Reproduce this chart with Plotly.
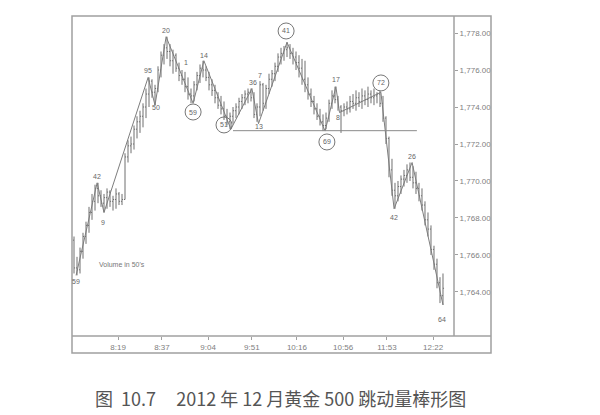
import plotly.graph_objects as go

# ---- data ----
opens = [1766.8, 1765.3, 1765.2, 1766.2, 1767.0, 1767.6, 1768.3, 1768.9, 1769.6, 1769.2,
         1768.8, 1769.1, 1769.4, 1768.9, 1769.0, 1769.3, 1768.9, 1769.0, 1771.3, 1771.9,
         1772.0, 1772.8, 1773.2, 1773.5, 1774.0, 1774.7, 1775.4, 1774.8, 1775.0, 1776.0,
         1776.8, 1777.2, 1777.0, 1776.5, 1776.8, 1776.1, 1775.7, 1775.5, 1775.1, 1774.7,
         1774.6, 1775.2, 1775.7, 1776.1, 1776.0, 1775.6, 1775.2, 1774.9, 1774.5, 1774.1,
         1773.9, 1773.5, 1773.2, 1773.5, 1773.8, 1774.0, 1774.3, 1774.5, 1774.7, 1774.8,
         1774.5, 1773.6, 1774.0, 1775.2, 1774.2, 1775.0, 1775.5, 1775.8, 1776.2, 1776.7,
         1776.9, 1777.1, 1777.2, 1776.9, 1776.7, 1776.4, 1776.1, 1775.5, 1775.2, 1774.7,
         1774.3, 1773.9, 1773.5, 1773.2, 1773.0, 1773.4, 1774.2, 1774.6, 1774.4, 1774.0,
         1773.8, 1774.0, 1773.9, 1774.3, 1774.2, 1774.5, 1774.3, 1774.6, 1774.4, 1774.7,
         1774.5, 1774.6, 1774.7, 1774.2, 1773.4, 1772.3, 1770.6, 1769.5, 1769.2, 1769.7,
         1770.1, 1770.3, 1770.6, 1770.2, 1769.9, 1769.6, 1769.2, 1768.7, 1767.9, 1767.4,
         1766.3, 1765.5, 1764.5, 1763.8]
highs = [1767.0, 1765.9, 1766.4, 1767.2, 1767.8, 1768.6, 1769.3, 1769.8, 1769.9, 1769.5,
         1769.3, 1769.6, 1769.5, 1769.2, 1769.6, 1769.4, 1769.3, 1771.5, 1772.2, 1772.4,
         1773.0, 1773.5, 1773.8, 1774.2, 1775.0, 1775.6, 1775.5, 1775.2, 1776.2, 1777.0,
         1777.4, 1777.8, 1777.4, 1777.1, 1776.9, 1776.4, 1776.0, 1775.9, 1775.6, 1775.0,
         1775.4, 1775.9, 1776.3, 1776.5, 1776.2, 1775.9, 1775.5, 1775.2, 1774.8, 1774.6,
         1774.3, 1773.9, 1773.7, 1774.0, 1774.2, 1774.5, 1774.7, 1774.9, 1775.0, 1775.0,
         1774.8, 1774.2, 1775.4, 1775.3, 1775.2, 1775.8, 1776.0, 1776.4, 1776.9, 1777.2,
         1777.3, 1777.5, 1777.4, 1777.2, 1777.0, 1776.8, 1776.6, 1776.5, 1775.6, 1775.0,
         1774.6, 1774.2, 1773.9, 1773.6, 1773.7, 1774.4, 1774.9, 1775.1, 1774.6, 1774.1,
         1774.2, 1774.3, 1774.6, 1774.7, 1774.9, 1774.8, 1775.0, 1774.9, 1775.1, 1774.9,
         1775.0, 1774.8, 1774.9, 1774.6, 1773.5, 1772.4, 1771.2, 1769.9, 1770.0, 1770.3,
         1770.6, 1770.9, 1771.0, 1770.8, 1770.5, 1769.9, 1769.6, 1768.9, 1768.3, 1767.6,
         1766.5, 1765.8, 1764.8, 1765.0]
lows = [1765.0, 1764.9, 1765.0, 1765.8, 1766.6, 1767.2, 1767.9, 1768.4, 1768.8, 1768.6,
        1768.3, 1768.5, 1768.6, 1768.4, 1768.5, 1768.7, 1768.7, 1769.0, 1771.0, 1771.5,
        1771.7, 1772.3, 1772.6, 1772.9, 1773.4, 1774.0, 1774.5, 1774.1, 1774.8, 1775.6,
        1776.3, 1776.6, 1776.2, 1775.8, 1775.9, 1775.4, 1775.2, 1774.8, 1774.4, 1774.2,
        1774.3, 1774.9, 1775.3, 1775.6, 1775.4, 1774.9, 1774.6, 1774.2, 1773.9, 1773.6,
        1773.3, 1773.0, 1772.8, 1773.1, 1773.4, 1773.6, 1773.9, 1774.1, 1774.2, 1774.3,
        1773.4, 1773.2, 1773.5, 1773.8, 1773.9, 1774.7, 1775.1, 1775.4, 1775.9, 1776.3,
        1776.5, 1776.7, 1776.6, 1776.3, 1776.0, 1775.6, 1775.2, 1774.8, 1774.4, 1774.0,
        1773.6, 1773.3, 1773.0, 1772.7, 1772.8, 1773.2, 1773.9, 1774.2, 1773.8, 1772.6,
        1773.5, 1773.6, 1773.7, 1773.9, 1773.8, 1774.0, 1773.9, 1774.1, 1774.0, 1774.2,
        1774.1, 1774.2, 1774.0, 1773.2, 1772.0, 1770.2, 1769.2, 1768.5, 1768.9, 1769.3,
        1769.7, 1769.9, 1770.0, 1769.6, 1769.3, 1768.9, 1768.4, 1767.6, 1767.0, 1766.0,
        1765.2, 1764.2, 1763.4, 1763.3]
closes = [1765.3, 1765.2, 1766.2, 1767.0, 1767.6, 1768.3, 1768.9, 1769.6, 1769.2, 1768.8,
          1769.1, 1769.4, 1768.9, 1769.0, 1769.3, 1768.9, 1769.0, 1771.3, 1771.9, 1772.0,
          1772.8, 1773.2, 1773.5, 1774.0, 1774.7, 1775.4, 1774.8, 1775.0, 1776.0, 1776.8,
          1777.2, 1777.0, 1776.5, 1776.8, 1776.1, 1775.7, 1775.5, 1775.1, 1774.7, 1774.6,
          1775.2, 1775.7, 1776.1, 1776.0, 1775.6, 1775.2, 1774.9, 1774.5, 1774.1, 1773.9,
          1773.5, 1773.2, 1773.5, 1773.8, 1774.0, 1774.3, 1774.5, 1774.7, 1774.8, 1774.5,
          1773.6, 1774.0, 1775.2, 1774.2, 1775.0, 1775.5, 1775.8, 1776.2, 1776.7, 1776.9,
          1777.1, 1777.2, 1776.9, 1776.7, 1776.4, 1776.1, 1775.5, 1775.2, 1774.7, 1774.3,
          1773.9, 1773.5, 1773.2, 1773.0, 1773.4, 1774.2, 1774.6, 1774.4, 1774.0, 1773.8,
          1774.0, 1773.9, 1774.3, 1774.2, 1774.5, 1774.3, 1774.6, 1774.4, 1774.7, 1774.5,
          1774.6, 1774.7, 1774.2, 1773.4, 1772.3, 1770.6, 1769.5, 1769.2, 1769.7, 1770.1,
          1770.3, 1770.6, 1770.2, 1769.9, 1769.6, 1769.2, 1768.7, 1767.9, 1767.4, 1766.3,
          1765.5, 1764.5, 1763.8, 1764.2]
bar_index = list(range(len(closes)))

# swing (wave) points
wave_x = [0.7, 7.7, 10.0, 24.7, 27.0, 30.7, 39.7, 43.3, 52.3, 59.3, 61.5, 71.0,
          83.7, 87.3, 88.5, 102.3, 106.7, 112.7, 123.0]
wave_y = [1764.9, 1769.9, 1768.3, 1775.6, 1774.1, 1777.8, 1774.2, 1776.5, 1772.8,
          1775.0, 1773.1, 1777.5, 1772.7, 1775.1, 1773.7, 1774.8, 1768.5, 1771.0, 1763.3]

# wave volume labels (text, bar index, price, circled)
label_text = ["59", "42", "9", "95", "50", "20", "1", "59", "14", "51", "36", "7", "13",
              "41", "69", "17", "8", "72", "42", "26", "64"]
label_x = [0.5, 7.7, 9.7, 24.7, 27.3, 30.7, 37.3, 39.7, 43.3, 50.0, 59.7, 62.0, 61.7,
           70.7, 84.3, 87.3, 88.0, 102.3, 106.7, 112.7, 122.7]
label_y = [1764.55, 1770.27, 1767.78, 1775.95, 1773.95, 1778.16, 1776.38, 1773.73, 1776.81,
           1773.03, 1775.30, 1775.73, 1772.92, 1778.11, 1772.11, 1775.51, 1773.41, 1775.30,
           1768.05, 1771.30, 1762.49]
label_circled = [False, False, False, False, False, False, False, True, False, True, False,
                 False, False, True, True, False, False, True, False, False, False]

# support line
support_price = 1772.72
support_from, support_to = 53.0, 114.3

# axes
x_tick_pos = [14.7, 29.3, 44.7, 59.3, 74.3, 89.7, 104.3, 119.7]
x_tick_text = ["8:19", "8:37", "9:04", "9:51", "10:16", "10:56", "11:53", "12:22"]
y_ticks = [1764, 1766, 1768, 1770, 1772, 1774, 1776, 1778]

NB = "\u00a0"
caption = ("图" + NB * 2 + "10.7" + NB * 5 + "2012" + NB + "年" + NB + "12" + NB
           + "月黄金" + NB + "500" + NB + "跳动量棒形图")
note = "Volume in 50's"

# ---- figure ----
BAR = "#6f6f6f"
FRAME = "#a0a0a0"
TXT = "#808080"

fig = go.Figure()
fig.add_trace(go.Ohlc(
    x=bar_index, open=opens, high=highs, low=lows, close=closes,
    increasing=dict(line=dict(color=BAR, width=1)),
    decreasing=dict(line=dict(color=BAR, width=1)),
    tickwidth=0.35, hoverinfo="skip", showlegend=False,
))
fig.add_trace(go.Scatter(
    x=wave_x, y=wave_y, mode="lines",
    line=dict(color="#7d7d7d", width=1), hoverinfo="skip", showlegend=False,
))
fig.add_trace(go.Scatter(
    x=[support_from, support_to], y=[support_price, support_price], mode="lines",
    line=dict(color="#8a8a8a", width=1), hoverinfo="skip", showlegend=False,
))

annotations = []
shapes = []
for t, lx, ly, circ in zip(label_text, label_x, label_y, label_circled):
    annotations.append(dict(
        x=lx, y=ly, xref="x", yref="y", text=t, showarrow=False,
        font=dict(family="Liberation Sans, Arial", size=7, color="#666666"),
    ))
    if circ:
        shapes.append(dict(
            type="circle", xref="x", yref="y", xsizemode="pixel", ysizemode="pixel",
            xanchor=lx, yanchor=ly, x0=-8, x1=8, y0=-8, y1=8,
            line=dict(color="#777777", width=1),
        ))

annotations.append(dict(
    x=25 / 382, y=(336 - 264) / 320, xref="paper", yref="paper", text=note,
    showarrow=False, xanchor="left", yanchor="middle",
    font=dict(family="Liberation Sans, Arial", size=7, color="#777777"),
))
annotations.append(dict(
    x=(93 - 72) / 382, y=(336 - 398) / 320, xref="paper", yref="paper", text=caption,
    showarrow=False, xanchor="left", yanchor="middle",
    font=dict(family="Noto Sans CJK SC", size=18, color="#555555"),
))

# outer frame and inner axis lines
px0, px1 = 0.0, (491 - 72) / 382
py0, py1 = -(353 - 336) / 320, 1.0
shapes += [
    dict(type="rect", xref="paper", yref="paper", x0=px0, x1=px1, y0=py0, y1=py1,
         line=dict(color=FRAME, width=1.5), layer="above"),
    dict(type="line", xref="paper", yref="paper", x0=1, x1=1, y0=0, y1=1,
         line=dict(color=FRAME, width=1.5)),
    dict(type="line", xref="paper", yref="paper", x0=0, x1=px1, y0=0, y1=0,
         line=dict(color=FRAME, width=1.5)),
]

# the page body adds an 8px offset, so the margins compensate for it
fig.update_layout(
    width=600, height=415,
    margin=dict(l=64, r=154, t=8, b=87),
    paper_bgcolor="white", plot_bgcolor="white",
    showlegend=False,
    annotations=annotations, shapes=shapes,
    xaxis=dict(
        range=[-0.67, 126.67], rangeslider=dict(visible=False),
        showgrid=False, zeroline=False, showline=False,
        tickmode="array", tickvals=x_tick_pos, ticktext=x_tick_text,
        ticks="outside", ticklen=3, tickcolor=FRAME,
        tickfont=dict(family="Liberation Sans, Arial", size=8, color=TXT),
    ),
    yaxis=dict(
        range=[1761.62, 1778.92], side="right",
        showgrid=False, zeroline=False, showline=False,
        tickmode="array", tickvals=y_ticks, tickformat=",.2f",
        ticks="outside", ticklen=3, tickcolor=FRAME,
        tickfont=dict(family="Liberation Sans, Arial", size=8, color=TXT),
    ),
)

fig.write_html("out.html")
